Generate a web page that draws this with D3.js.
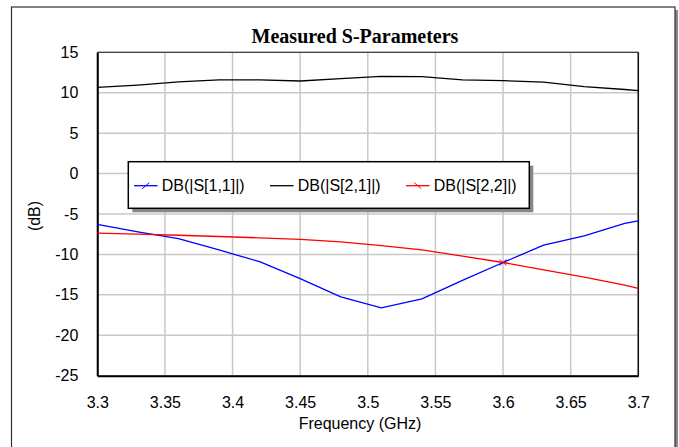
<!DOCTYPE html>
<html>
<head>
<meta charset="utf-8">
<script src="https://cdn.jsdelivr.net/npm/d3@7"></script>
<style>
  html, body { margin: 0; padding: 0; background: #fff; }
  svg { display: block; }
</style>
</head>
<body>
<div id="chart"></div>
<script>
const freqs = [3.30, 3.33, 3.36, 3.39, 3.42, 3.45, 3.48, 3.51, 3.54, 3.57, 3.60, 3.63, 3.66, 3.69, 3.70];
const s11 = [-6.29, -7.2, -8.05, -9.45, -10.9, -13.0, -15.25, -16.6, -15.5, -13.2, -11.0, -8.85, -7.7, -6.15, -5.84];
const s21 = [10.67, 10.95, 11.33, 11.6, 11.6, 11.45, 11.74, 12.03, 11.98, 11.6, 11.5, 11.3, 10.75, 10.4, 10.25];
const s22 = [-7.36, -7.5, -7.63, -7.78, -7.95, -8.14, -8.45, -8.9, -9.45, -10.2, -11.0, -11.9, -12.8, -13.8, -14.2];

const xTicks = [3.3, 3.35, 3.4, 3.45, 3.5, 3.55, 3.6, 3.65, 3.7];
const yTicks = [15, 10, 5, 0, -5, -10, -15, -20, -25];
const markerFreq = 3.6;

const series = [
  { name: "DB(|S[1,1]|)", values: s11, color: "#0000ff", mark: "up" },
  { name: "DB(|S[2,1]|)", values: s21, color: "#000000", mark: null },
  { name: "DB(|S[2,2]|)", values: s22, color: "#ff0000", mark: "down" }
];

const width = 679, height = 447;
const plot = { left: 97.3, right: 638.3, top: 52.3, bottom: 375.7 };
const font = "Liberation Sans, Arial, sans-serif";

const svg = d3.select("#chart").append("svg")
  .attr("width", width)
  .attr("height", height);

// outer frame with shadow
svg.append("rect")
  .attr("x", 14).attr("y", 10).attr("width", 664).attr("height", 460)
  .attr("fill", "#888");
svg.append("rect")
  .attr("x", 11.5).attr("y", 7).attr("width", 663.5).attr("height", 460)
  .attr("fill", "#fff").attr("stroke", "#333").attr("stroke-width", 1.2);

const x = d3.scaleLinear().domain([3.3, 3.7]).range([plot.left, plot.right]);
const y = d3.scaleLinear().domain([-25, 15]).range([plot.bottom, plot.top]);

// grid
const grid = svg.append("g").attr("stroke", "#c8c8c8").attr("stroke-width", 1.5);
grid.selectAll("line.v").data(xTicks).join("line")
  .attr("x1", d => x(d)).attr("x2", d => x(d))
  .attr("y1", plot.top).attr("y2", plot.bottom);
grid.selectAll("line.h").data(yTicks).join("line")
  .attr("x1", plot.left).attr("x2", plot.right)
  .attr("y1", d => y(d)).attr("y2", d => y(d));

// plot borders
svg.append("line")
  .attr("x1", plot.left).attr("x2", plot.right)
  .attr("y1", plot.top).attr("y2", plot.top)
  .attr("stroke", "#444").attr("stroke-width", 1.2);
svg.append("line")
  .attr("x1", plot.right).attr("x2", plot.right)
  .attr("y1", plot.top).attr("y2", plot.bottom)
  .attr("stroke", "#111").attr("stroke-width", 1.5);

// axes
const xAxis = svg.append("g")
  .attr("transform", `translate(0,${plot.bottom})`)
  .call(d3.axisBottom(x).tickValues(xTicks).tickSize(0).tickPadding(21).tickFormat(d3.format("")));
const yAxis = svg.append("g")
  .attr("transform", `translate(${plot.left},0)`)
  .call(d3.axisLeft(y).tickValues(yTicks).tickSize(0).tickPadding(19).tickFormat(d => String(d)));
[xAxis, yAxis].forEach(a => {
  a.select(".domain").attr("stroke", "#000").attr("stroke-width", 2);
  a.selectAll("text").attr("font-family", font).attr("font-size", 16).attr("fill", "#000");
});

// lines
const line = d3.line().x((d, i) => x(freqs[i])).y(d => y(d));
svg.append("g").selectAll("path").data(series).join("path")
  .attr("d", d => line(d.values))
  .attr("fill", "none")
  .attr("stroke", d => d.color)
  .attr("stroke-width", 1.3);

// markers
const markPath = (cx, cy, dir) => dir === "up"
  ? `M${cx - 3.5},${cy + 3}L${cx + 3.5},${cy - 3}`
  : `M${cx - 3.5},${cy - 3}L${cx + 3.5},${cy + 3}`;
const mi = freqs.indexOf(markerFreq);
svg.append("g").selectAll("path").data(series.filter(s => s.mark)).join("path")
  .attr("d", d => markPath(x(markerFreq), y(d.values[mi]), d.mark))
  .attr("stroke", d => d.color)
  .attr("stroke-width", 1);

// title
svg.append("text")
  .attr("x", 355).attr("y", 43.3)
  .attr("text-anchor", "middle")
  .attr("font-family", "Liberation Serif, Times New Roman, serif")
  .attr("font-weight", "bold")
  .attr("font-size", 20)
  .text("Measured S-Parameters");

// axis titles
svg.append("text")
  .attr("x", 360).attr("y", 428.5)
  .attr("text-anchor", "middle")
  .attr("font-family", font).attr("font-size", 16)
  .text("Frequency (GHz)");
svg.append("text")
  .attr("transform", "translate(40,216) rotate(-90)")
  .attr("text-anchor", "middle")
  .attr("font-family", font).attr("font-size", 16)
  .text("(dB)");

// legend
const lg = { x: 128.3, y: 161.7, w: 401, h: 46.6 };
svg.append("rect")
  .attr("x", lg.x + 4).attr("y", lg.y + 4).attr("width", lg.w).attr("height", lg.h)
  .attr("fill", "#888");
svg.append("rect")
  .attr("x", lg.x).attr("y", lg.y).attr("width", lg.w).attr("height", lg.h)
  .attr("fill", "#fff").attr("stroke", "#000").attr("stroke-width", 1.5);

const legendX = [134, 270, 406];
const entry = svg.append("g").selectAll("g").data(series).join("g")
  .attr("transform", (d, i) => `translate(${legendX[i]},185.7)`);
entry.append("line")
  .attr("x1", 0).attr("x2", 23.5).attr("y1", 0).attr("y2", 0)
  .attr("stroke", d => d.color).attr("stroke-width", 1.3);
entry.filter(d => d.mark).append("path")
  .attr("d", d => markPath(11.75, 0, d.mark))
  .attr("stroke", d => d.color).attr("stroke-width", 1);
entry.append("text")
  .attr("x", 27.7).attr("y", 5.5)
  .attr("font-family", font).attr("font-size", 16)
  .text(d => d.name);
</script>
</body>
</html>
